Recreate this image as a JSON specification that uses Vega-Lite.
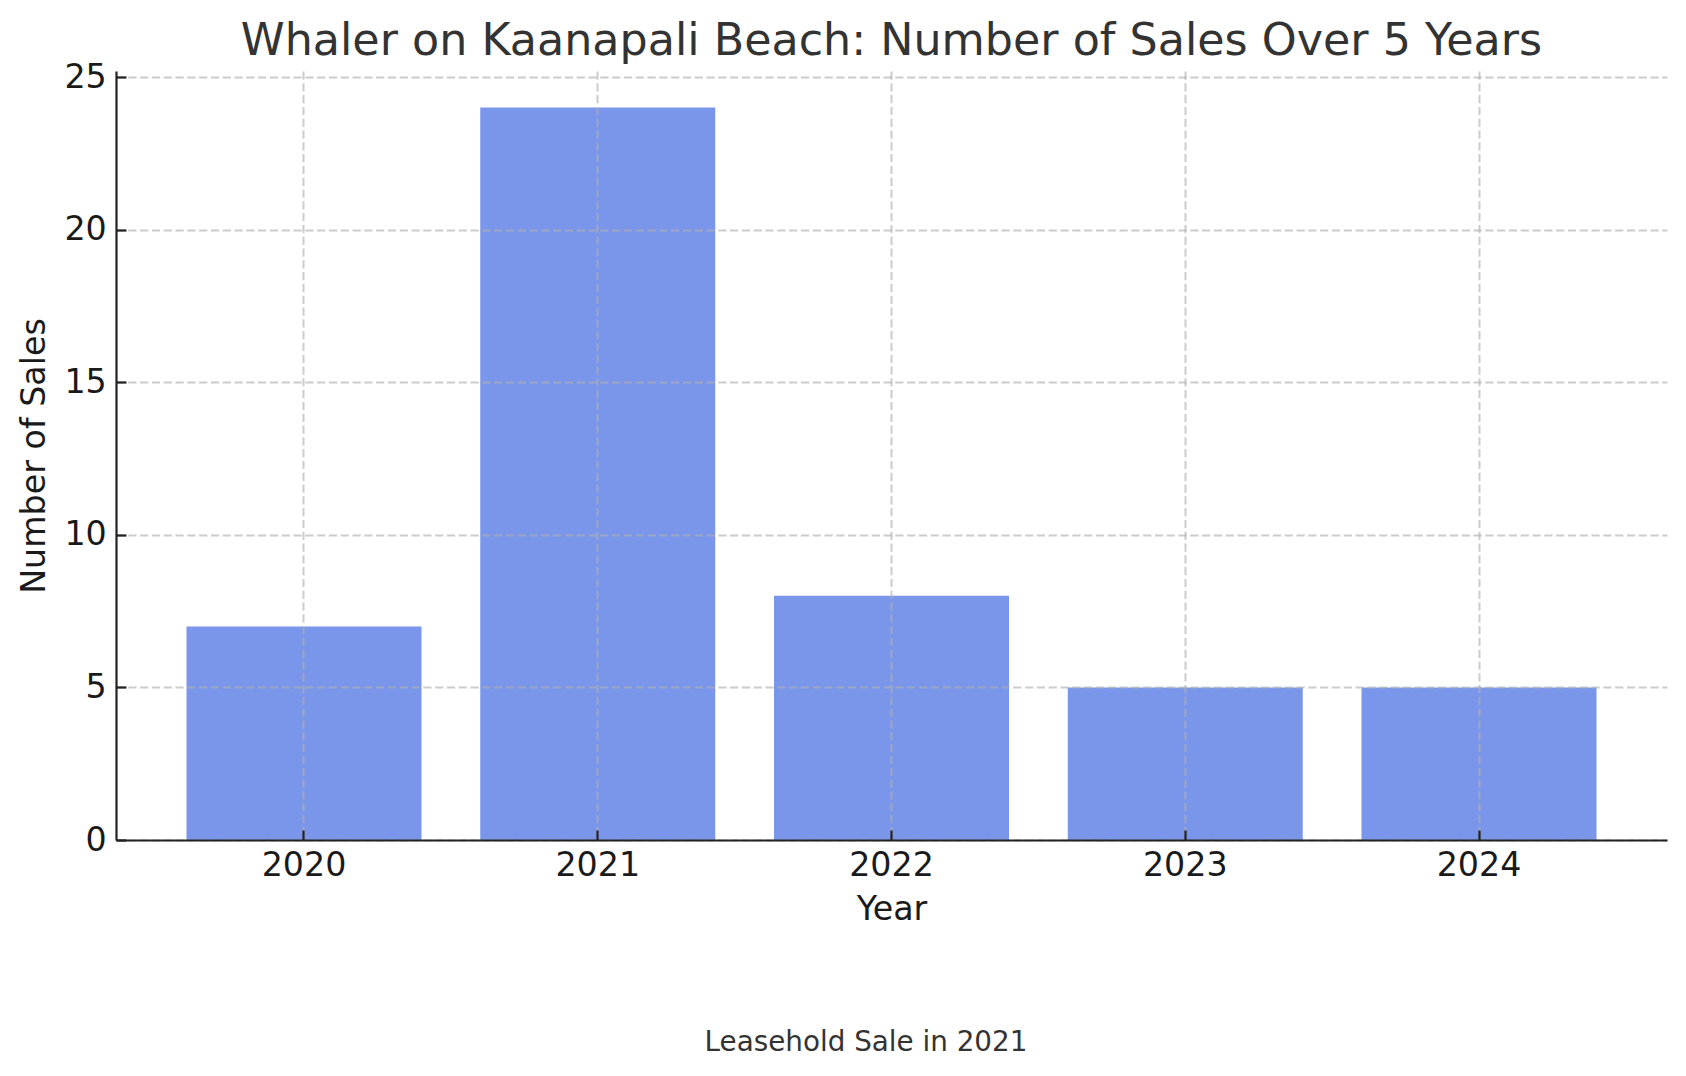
{
  "$schema": "https://vega.github.io/schema/vega-lite/v6.json",
  "width": 1551,
  "height": 769,
  "autosize": {"type": "none"},
  "padding": {"left": 116, "top": 71, "right": 19, "bottom": 236},
  "background": "white",
  "title": {
    "text": "Whaler on Kaanapali Beach: Number of Sales Over 5 Years",
    "fontSize": 44.4,
    "font": "DejaVu Sans",
    "fontWeight": "normal",
    "color": "#333333",
    "anchor": "middle",
    "frame": "group",
    "offset": -4
  },
  "config": {"view": {"stroke": null}, "font": "DejaVu Sans"},
  "layer": [
    {
      "data": {
        "values": [
          {"Year": "2020", "Sales": 7},
          {"Year": "2021", "Sales": 24},
          {"Year": "2022", "Sales": 8},
          {"Year": "2023", "Sales": 5},
          {"Year": "2024", "Sales": 5}
        ]
      },
      "mark": {"type": "bar", "color": "#7a96ea"},
      "encoding": {
        "x": {
          "field": "Year",
          "type": "ordinal",
          "scale": {"paddingInner": 0.2, "paddingOuter": 0.24},
          "axis": {
            "title": "Year",
            "titleFontSize": 33.3,
            "titleFontWeight": "normal",
            "titleColor": "#1a1a1a",
            "titlePadding": 11,
            "labelFontSize": 33.3,
            "labelColor": "#1a1a1a",
            "labelAngle": 0,
            "labelPadding": 19.7,
            "tickSize": -10,
            "tickWidth": 2.2,
            "tickColor": "#222222",
            "domainColor": "#222222",
            "domainWidth": 2.2,
            "grid": true,
            "gridColor": "#b0b0b0",
            "gridOpacity": 0.65,
            "gridWidth": 2,
            "gridDash": [8.2, 3.6],
            "zindex": 1
          }
        },
        "y": {
          "field": "Sales",
          "type": "quantitative",
          "scale": {"domain": [0, 25.2], "nice": false, "zero": true},
          "axis": {
            "title": "Number of Sales",
            "values": [0, 5, 10, 15, 20, 25],
            "titleFontSize": 33.3,
            "titleFontWeight": "normal",
            "titleColor": "#1a1a1a",
            "titlePadding": 12,
            "labelFontSize": 33.3,
            "labelColor": "#1a1a1a",
            "labelPadding": 19.7,
            "tickSize": -10,
            "tickWidth": 2.2,
            "tickColor": "#222222",
            "domainColor": "#222222",
            "domainWidth": 2.2,
            "grid": true,
            "gridColor": "#b0b0b0",
            "gridOpacity": 0.65,
            "gridWidth": 2,
            "gridDash": [8.2, 3.6],
            "zindex": 1
          }
        }
      }
    },
    {
      "data": {"values": [{"note": "Leasehold Sale in 2021"}]},
      "mark": {
        "type": "text",
        "fontSize": 27.8,
        "font": "DejaVu Sans",
        "color": "#333333",
        "align": "center",
        "baseline": "middle",
        "dx": -25.5,
        "dy": 587
      },
      "encoding": {"text": {"field": "note"}}
    }
  ]
}
